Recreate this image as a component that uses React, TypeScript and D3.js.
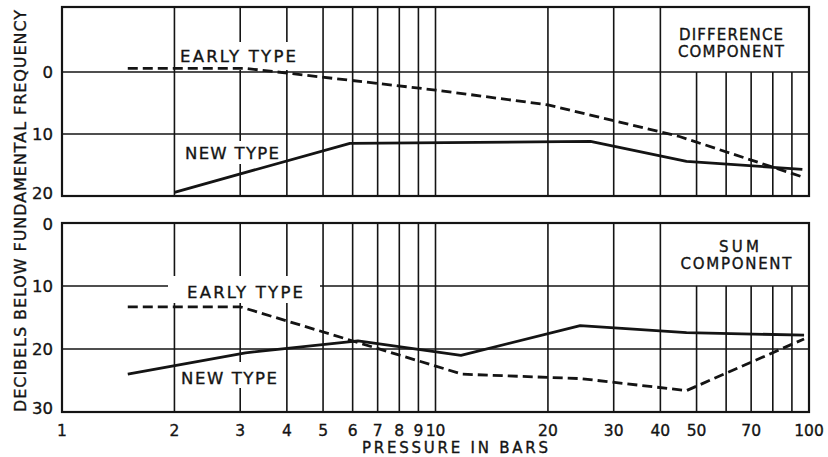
import React from "react";
import * as d3 from "d3";

// ---- data ----
const gridX = [2, 3, 4, 5, 6, 7, 8, 9, 10, 20, 30, 40, 50, 60, 70, 80, 90];
const xTickValues = [1, 2, 3, 4, 5, 6, 7, 8, 9, 10, 20, 30, 40, 50, 70, 100];
const xTickLabels = ["1", "2", "3", "4", "5", "6", "7", "8", "9", "10", "20", "30", "40", "50", "70", "100"];

const topYTicks = [0, 10, 20];
const bottomYTicks = [0, 10, 20, 30];
const topGridY = [0, 10];
const bottomGridY = [10, 20];

// Difference component (dB below fundamental)
const diffEarly: [number, number][] = [[1.5, -0.6], [3.1, -0.6], [10, 2.9], [20, 5.3], [45, 10.4], [97, 17.0]];
const diffNew: [number, number][] = [[2, 19.4], [5.9, 11.5], [26, 11.2], [47, 14.4], [96, 15.7]];
// Sum component
const sumEarly: [number, number][] = [[1.5, 13.3], [3, 13.3], [11.8, 24.0], [24.5, 24.7], [47, 26.6], [97, 18.4]];
const sumNew: [number, number][] = [[1.5, 24.0], [3.1, 20.6], [6.2, 18.7], [11.7, 21.0], [24.4, 16.3], [47, 17.4], [97, 17.8]];

const FONT = "'DejaVu Sans', sans-serif";
const INK = "#141414";

export default function App() {
  const W = 828, H = 457;
  const left = 62, right = 809;
  const x = d3.scaleLog().domain([1, 100]).range([left, right]);
  const yTop = d3.scaleLinear().domain([-10.5, 20]).range([7, 196]);
  const yBot = d3.scaleLinear().domain([0, 30]).range([223, 412]);

  const lineTop = d3.line<[number, number]>().x(d => x(d[0])).y(d => yTop(d[1]));
  const lineBot = d3.line<[number, number]>().x(d => x(d[0])).y(d => yBot(d[1]));

  const txt = (props: any, s: string) => (
    <text fontFamily={FONT} fill={INK} stroke={INK} strokeWidth={0.35} {...props}>{s}</text>
  );

  return (
    <svg width={W} height={H} style={{ position: "absolute", left: 0, top: 0, background: "#fff" }}>
      <rect x={0} y={0} width={W} height={H} fill="#fff" />

      {/* ---------- TOP PANEL ---------- */}
      {gridX.map(v => (
        <line key={"tgx" + v} x1={x(v)} x2={x(v)} y1={v >= 50 ? yTop(0) : yTop(-10.5)} y2={yTop(20)}
          stroke={INK} strokeWidth={1.6} />
      ))}
      {topGridY.map(v => (
        <line key={"tgy" + v} x1={left} x2={right} y1={yTop(v)} y2={yTop(v)} stroke={INK} strokeWidth={1.6} />
      ))}
      {/* label backgrounds */}
      <rect x={177} y={42} width={124} height={28} fill="#fff" />
      <rect x={181} y={141} width={102} height={23} fill="#fff" />
      <rect x={662} y={8} width={146} height={62} fill="#fff" />
      <path d={lineTop(diffNew) || ""} fill="none" stroke={INK} strokeWidth={2.8} strokeLinejoin="round" />
      <path d={lineTop(diffEarly) || ""} fill="none" stroke={INK} strokeWidth={2.8} strokeDasharray="10,5" />
      <rect x={left} y={yTop(-10.5)} width={right - left} height={yTop(20) - yTop(-10.5)} fill="none" stroke={INK} strokeWidth={2.2} />
      {txt({ x: 180, y: 61.5, fontSize: 16.5, textLength: 116, lengthAdjust: "spacing" }, "EARLY TYPE")}
      {txt({ x: 185, y: 159, fontSize: 16.5, textLength: 94, lengthAdjust: "spacing" }, "NEW TYPE")}
      {txt({ x: 731, y: 39.5, fontSize: 15, textAnchor: "middle", textLength: 104, lengthAdjust: "spacing" }, "DIFFERENCE")}
      {txt({ x: 731, y: 57, fontSize: 15, textAnchor: "middle", textLength: 106, lengthAdjust: "spacing" }, "COMPONENT")}
      {topYTicks.map(v => txt({ key: "tyt" + v, x: 53, y: (v === 20 ? yTop(v) - 3 : yTop(v)) + 6, fontSize: 16.5, textAnchor: "end" }, String(v)))}

      {/* ---------- BOTTOM PANEL ---------- */}
      {gridX.map(v => (
        <line key={"bgx" + v} x1={x(v)} x2={x(v)} y1={v >= 50 ? yBot(10) : yBot(0)} y2={yBot(30)}
          stroke={INK} strokeWidth={1.6} />
      ))}
      {bottomGridY.map(v => (
        <line key={"bgy" + v} x1={left} x2={right} y1={yBot(v)} y2={yBot(v)} stroke={INK} strokeWidth={1.6} />
      ))}
      <rect x={168} y={276} width={152} height={27} fill="#fff" />
      <rect x={178} y={362} width={102} height={26} fill="#fff" />
      <rect x={662} y={224} width={146} height={60} fill="#fff" />
      <path d={lineBot(sumNew) || ""} fill="none" stroke={INK} strokeWidth={2.8} strokeLinejoin="round" />
      <path d={lineBot(sumEarly) || ""} fill="none" stroke={INK} strokeWidth={2.8} strokeDasharray="10,5" />
      <rect x={left} y={yBot(0)} width={right - left} height={yBot(30) - yBot(0)} fill="none" stroke={INK} strokeWidth={2.2} />
      {txt({ x: 187, y: 297.5, fontSize: 16.5, textLength: 116, lengthAdjust: "spacing" }, "EARLY TYPE")}
      {txt({ x: 181, y: 383.5, fontSize: 16.5, textLength: 96, lengthAdjust: "spacing" }, "NEW TYPE")}
      {txt({ x: 739, y: 251.5, fontSize: 15, textAnchor: "middle", textLength: 40, lengthAdjust: "spacing" }, "SUM")}
      {txt({ x: 736, y: 269, fontSize: 15, textAnchor: "middle", textLength: 111, lengthAdjust: "spacing" }, "COMPONENT")}
      {bottomYTicks.map(v => txt({ key: "byt" + v, x: 53, y: (v === 30 ? yBot(v) - 4 : v === 0 ? yBot(v) + 1 : yBot(v)) + 6, fontSize: 16.5, textAnchor: "end" }, String(v)))}

      {/* ---------- AXES TEXT ---------- */}
      {xTickValues.map((v, i) => txt({ key: "xt" + v, x: x(v), y: 435.5, fontSize: 15.5, textAnchor: "middle" }, xTickLabels[i]))}
      {txt({ x: 455, y: 452.5, fontSize: 15, textAnchor: "middle", textLength: 186, lengthAdjust: "spacing" }, "PRESSURE IN BARS")}
      {txt({ x: 0, y: 0, fontSize: 16, textAnchor: "middle", textLength: 402, lengthAdjust: "spacing", transform: "translate(25.5,211) rotate(-90)" }, "DECIBELS BELOW FUNDAMENTAL FREQUENCY")}
    </svg>
  );
}
